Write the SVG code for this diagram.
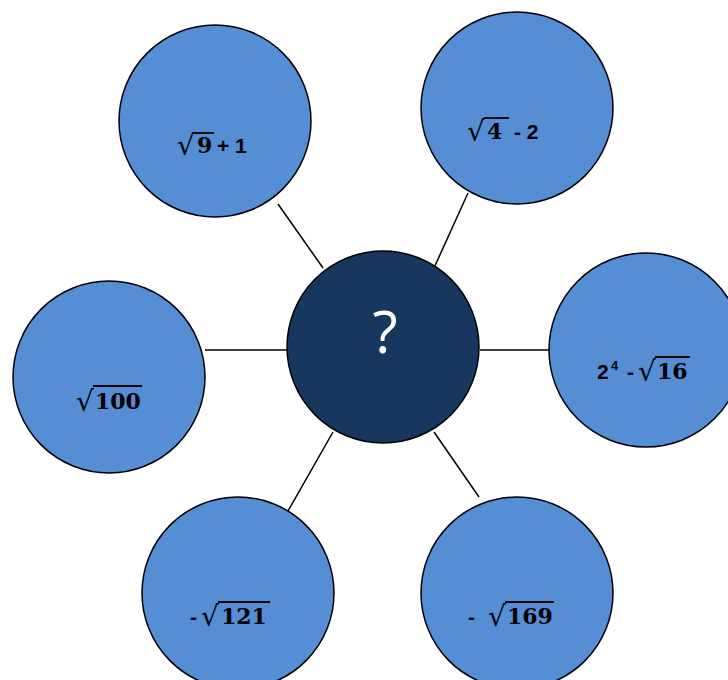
<svg xmlns="http://www.w3.org/2000/svg" width="728" height="680" viewBox="0 0 728 680">
  <style>
    .node { fill: #558ED5; stroke: #000; stroke-width: 1.5; }
    .hub { fill: #17375E; stroke: #000; stroke-width: 1.5; }
    .link { stroke: #000; stroke-width: 1.5; fill: none; }
    .num { font-family: "DejaVu Serif", "Liberation Serif", serif; font-weight: bold; font-size: 22px; fill: #000; }
    .op { font-family: "Liberation Sans", Arial, sans-serif; font-weight: bold; font-size: 21px; fill: #000; }
    .rad { font-family: "DejaVu Sans", "Liberation Serif", serif; font-size: 28px; fill: #000; }
    .bar { stroke: #000; stroke-width: 1.8; }
    .q { font-family: "Open Sans", "Liberation Sans", sans-serif; font-size: 58px; fill: #fff; }
  </style>
  <rect width="728" height="680" fill="#fff"/>

  <g id="connectors">
    <line class="link" x1="278" y1="204" x2="323" y2="268"/>
    <line class="link" x1="468" y1="193" x2="434" y2="268"/>
    <line class="link" x1="480" y1="350" x2="550" y2="350"/>
    <line class="link" x1="205" y1="350" x2="288" y2="350"/>
    <line class="link" x1="333" y1="432" x2="288" y2="511"/>
    <line class="link" x1="434" y1="432" x2="479" y2="497"/>
  </g>

  <g id="center">
    <circle class="hub" cx="383" cy="347" r="96"/>
    <text class="q" x="385" y="353" text-anchor="middle">?</text>
  </g>

  <g id="node-top-left">
    <circle class="node" cx="215" cy="121" r="96"/>
    <text class="rad" x="177" y="155">√</text>
    <line class="bar" x1="194" y1="133" x2="214" y2="133"/>
    <text class="num" x="197" y="153">9</text>
    <text class="op" x="217" y="153">+ 1</text>
  </g>

  <g id="node-top-right">
    <circle class="node" cx="517" cy="108" r="96"/>
    <text class="rad" x="467" y="141">√</text>
    <line class="bar" x1="484" y1="118" x2="509" y2="118"/>
    <text class="num" x="487" y="139">4</text>
    <text class="op" x="514" y="139">- 2</text>
  </g>

  <g id="node-right">
    <circle class="node" cx="646" cy="350" r="97"/>
    <text class="op" x="597" y="379">2</text>
    <text class="op" x="611" y="370" style="font-size:13px">4</text>
    <text class="op" x="627" y="379">-</text>
    <text class="rad" x="638" y="381">√</text>
    <line class="bar" x1="655" y1="357" x2="690" y2="357"/>
    <text class="num" x="657" y="379">16</text>
  </g>

  <g id="node-left">
    <circle class="node" cx="109" cy="377" r="96"/>
    <text class="rad" x="76" y="411">√</text>
    <line class="bar" x1="93" y1="386" x2="142" y2="386"/>
    <text class="num" x="95" y="409">100</text>
  </g>

  <g id="node-bottom-left">
    <circle class="node" cx="238" cy="593" r="96"/>
    <text class="op" x="190" y="624">-</text>
    <text class="rad" x="201" y="626">√</text>
    <line class="bar" x1="218" y1="602" x2="270" y2="602"/>
    <text class="num" x="221" y="624">121</text>
  </g>

  <g id="node-bottom-right">
    <circle class="node" cx="517" cy="593" r="96"/>
    <text class="op" x="468" y="624">-</text>
    <text class="rad" x="488" y="626">√</text>
    <line class="bar" x1="505" y1="602" x2="554" y2="602"/>
    <text class="num" x="507" y="624">169</text>
  </g>
</svg>
